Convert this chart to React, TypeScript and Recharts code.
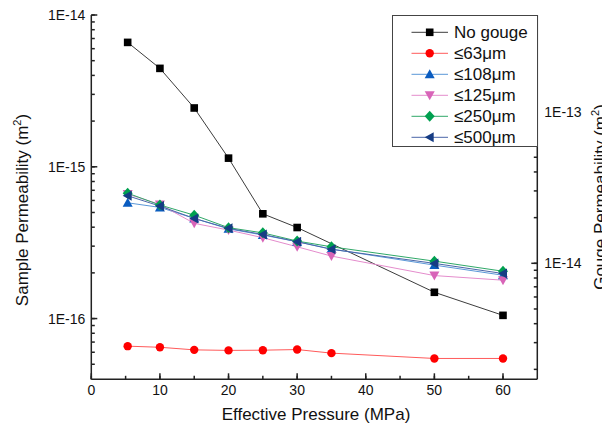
import React from "react";
import { LineChart, Line, XAxis, YAxis, Legend } from "recharts";

// effective pressure (MPa)
const pressure = [5.3, 10, 15, 20, 25, 30, 35, 50, 60];

// permeability (m^2)
const noGouge = [6.6e-15, 4.45e-15, 2.44e-15, 1.14e-15, 4.9e-16, 3.98e-16, null, 1.49e-16, 1.05e-16];
const g63 = [6.58e-17, 6.47e-17, 6.22e-17, 6.17e-17, 6.19e-17, 6.25e-17, 5.92e-17, 5.46e-17, 5.46e-17];
const g108 = [5.79e-16, 5.4e-16, 4.57e-16, 3.9e-16, 3.55e-16, 3.21e-16, 2.87e-16, 2.25e-16, 1.93e-16];
const g125 = [6.61e-16, 5.65e-16, 4.24e-16, 3.83e-16, 3.41e-16, 2.97e-16, 2.58e-16, 1.92e-16, 1.79e-16];
const g250 = [6.7e-16, 5.6e-16, 4.8e-16, 3.97e-16, 3.67e-16, 3.24e-16, 2.97e-16, 2.39e-16, 2.05e-16];
const g500 = [6.44e-16, 5.51e-16, 4.57e-16, 3.93e-16, 3.58e-16, 3.21e-16, 2.86e-16, 2.31e-16, 1.98e-16];

// ticks
const xMajor = [0, 10, 20, 30, 40, 50, 60];
const xMinor = [5, 15, 25, 35, 45, 55];
const leftDecades = [1e-16, 1e-15, 1e-14];
const leftLabels = ["1E-16", "1E-15", "1E-14"];
const leftMinor = [5e-17, 6e-17, 7e-17, 8e-17, 9e-17, 2e-16, 3e-16, 4e-16, 5e-16, 6e-16, 7e-16, 8e-16, 9e-16, 2e-15, 3e-15, 4e-15, 5e-15, 6e-15, 7e-15, 8e-15, 9e-15];
const rightDecades = [1e-14, 1e-13];
const rightLabels = ["1E-14", "1E-13"];
const rightMinor = [2e-15, 3e-15, 4e-15, 5e-15, 6e-15, 7e-15, 8e-15, 9e-15, 2e-14, 3e-14, 4e-14, 5e-14, 6e-14, 7e-14, 8e-14, 9e-14, 2e-13, 3e-13, 4e-13];

const series = [
  { key: "noGouge", name: "No gouge", values: noGouge, shape: "square", fill: "#000000", line: "#3c3c3c" },
  { key: "g63", name: "≤63μm", values: g63, shape: "circle", fill: "#ff0000", line: "#ff5a5a" },
  { key: "g108", name: "≤108μm", values: g108, shape: "up", fill: "#0a5cc0", line: "#5b98d8" },
  { key: "g125", name: "≤125μm", values: g125, shape: "down", fill: "#d864b8", line: "#e48ccc" },
  { key: "g250", name: "≤250μm", values: g250, shape: "diamond", fill: "#00a050", line: "#30a868" },
  { key: "g500", name: "≤500μm", values: g500, shape: "left", fill: "#163c84", line: "#4a66a8" },
];

const data = pressure.map((p, i) => {
  const row: any = { p };
  series.forEach((s) => (row[s.key] = s.values[i]));
  return row;
});

const frame = "#222";
const font = "Liberation Sans, Arial, Helvetica, sans-serif";
const minorLen = 3.5;
const majorLen = 6;
const tickW = 1.5;
const tickLineStyle = { stroke: frame, strokeWidth: tickW };
const axisLineStyle = { stroke: frame, strokeWidth: 1.5 };

const isIn = (v: number, list: number[]) => list.findIndex((d) => Math.abs(Math.log10(v) - Math.log10(d)) < 1e-6);

function Marker({ shape, cx, cy, fill }: any) {
  if (cx == null || cy == null || isNaN(cx) || isNaN(cy)) return <g />;
  if (shape === "square") return <rect x={cx - 3.8} y={cy - 3.8} width={7.6} height={7.6} fill={fill} />;
  if (shape === "circle") return <circle cx={cx} cy={cy} r={4.2} fill={fill} />;
  let pts = "";
  if (shape === "up") pts = `${cx},${cy - 5} ${cx - 5},${cy + 4} ${cx + 5},${cy + 4}`;
  if (shape === "down") pts = `${cx},${cy + 5} ${cx - 5},${cy - 4} ${cx + 5},${cy - 4}`;
  if (shape === "diamond") pts = `${cx},${cy - 5.5} ${cx + 5},${cy} ${cx},${cy + 5.5} ${cx - 5},${cy}`;
  if (shape === "left") pts = `${cx - 5},${cy} ${cx + 4},${cy - 5} ${cx + 4},${cy + 5}`;
  return <polygon points={pts} fill={fill} />;
}

// x, y handed to the tick components sit on the axis line (tick size and margin cancel out)
const BottomTick = ({ x, y, payload }: any) => {
  if (!xMajor.includes(payload.value)) return <g />;
  return (
    <g>
      <line x1={x} y1={y} x2={x} y2={y - majorLen} stroke={frame} strokeWidth={tickW} />
      <text x={x} y={y + 15.5} textAnchor="middle" fontSize={14} fontFamily={font} fill="#111">
        {payload.value}
      </text>
    </g>
  );
};

const TopTick = () => <g />;

const LeftTick = ({ x, y, payload }: any) => {
  const i = isIn(payload.value, leftDecades);
  if (i < 0) return <g />;
  return (
    <g>
      <line x1={x} y1={y} x2={x + majorLen} y2={y} stroke={frame} strokeWidth={tickW} />
      <text x={x - 6} y={y + 5} textAnchor="end" fontSize={14} fontFamily={font} fill="#111">
        {leftLabels[i]}
      </text>
    </g>
  );
};

const RightTick = ({ x, y, payload }: any) => {
  const i = isIn(payload.value, rightDecades);
  if (i < 0) return <g />;
  return (
    <g>
      <line x1={x} y1={y} x2={x - majorLen} y2={y} stroke={frame} strokeWidth={tickW} />
      <text x={x + 7} y={y + 5} textAnchor="start" fontSize={14} fontFamily={font} fill="#111">
        {rightLabels[i]}
      </text>
    </g>
  );
};

const LegendBox = () => (
  <svg width={146} height={132} style={{ display: "block" }}>
    <rect x={0.5} y={0.5} width={145} height={131} fill="#fff" stroke="#444" strokeWidth={1} />
    {series.map((s, i) => {
      const y = 17.3 + i * 21;
      return (
        <g key={s.key}>
          <line x1={19.5} y1={y} x2={56} y2={y} stroke={s.line} strokeWidth={1} />
          <Marker shape={s.shape} cx={37.7} cy={y} fill={s.fill} />
          <text x={62} y={y + 6} fontSize={17} fontFamily={font} fill="#111">
            {s.name}
          </text>
        </g>
      );
    })}
  </svg>
);

const superTitle = (label: string) => (
  <>
    {label} (m
    <tspan dy={-7} fontSize={11}>2</tspan>
    <tspan dy={7}>)</tspan>
  </>
);

export default function App() {
  const xTicks = [...xMajor, ...xMinor].sort((a, b) => a - b);
  return (
    <LineChart width={602} height={417} data={data} margin={{ top: 7, right: 0, bottom: 0, left: 0 }}>
      <XAxis
        xAxisId="bottom"
        dataKey="p"
        type="number"
        domain={[0, 65]}
        allowDataOverflow
        ticks={xTicks}
        interval={0}
        tickSize={-minorLen}
        tickMargin={minorLen}
        tick={<BottomTick />}
        tickLine={tickLineStyle}
        axisLine={axisLineStyle}
        height={45.7}
        label={{
          content: () => (
            <text x={308} y={412} textAnchor="middle" fontSize={17} fontFamily={font} fill="#111">
              Effective Pressure (MPa)
            </text>
          ),
        }}
      />
      <XAxis
        xAxisId="top"
        orientation="top"
        type="number"
        domain={[0, 65]}
        allowDataOverflow
        ticks={xTicks}
        interval={0}
        tickSize={-5}
        tickMargin={5}
        tick={<TopTick />}
        tickLine={tickLineStyle}
        axisLine={axisLineStyle}
        height={0}
        label={{
          content: () => (
            <text x={300} y={61} textAnchor="middle" fontSize={21} fontWeight="bold" fontFamily={font} fill="#000">
              0.6mm
            </text>
          ),
        }}
      />
      <YAxis
        yAxisId="left"
        scale="log"
        type="number"
        domain={[3.98e-17, 1e-14]}
        allowDataOverflow
        ticks={[...leftDecades, ...leftMinor].sort((a, b) => a - b)}
        interval={0}
        tickSize={-minorLen}
        tickMargin={minorLen}
        tick={<LeftTick />}
        tickLine={tickLineStyle}
        axisLine={axisLineStyle}
        width={83.3}
        label={{
          content: () => (
            <text transform="translate(20,202) rotate(-90)" textAnchor="middle" fontSize={17} fontFamily={font} fill="#111">
              {superTitle("Sample Permeability")}
            </text>
          ),
        }}
      />
      <YAxis
        yAxisId="right"
        orientation="right"
        scale="log"
        type="number"
        domain={[1.72e-15, 4.33e-13]}
        allowDataOverflow
        ticks={[...rightDecades, ...rightMinor].sort((a, b) => a - b)}
        interval={0}
        tickSize={-minorLen}
        tickMargin={minorLen}
        tick={<RightTick />}
        tickLine={tickLineStyle}
        axisLine={axisLineStyle}
        width={72.7}
        label={{
          content: () => (
            <text transform="translate(598,189) rotate(-90)" textAnchor="middle" fontSize={17} fontFamily={font} fill="#111">
              {superTitle("Gouge Permeability")}
            </text>
          ),
        }}
      />
      <Legend
        layout="horizontal"
        verticalAlign="middle"
        align="center"
        content={() => <LegendBox />}
        wrapperStyle={{ position: "absolute", left: 384, top: 7, width: 146, height: 132 }}
      />
      {series.map((s) => (
        <Line
          key={s.key}
          xAxisId="bottom"
          yAxisId="left"
          dataKey={s.key}
          name={s.name}
          stroke={s.line}
          strokeWidth={1}
          connectNulls
          isAnimationActive={false}
          dot={(p: any) => <Marker key={`${s.key}-${p.index}`} shape={s.shape} cx={p.cx} cy={p.cy} fill={s.fill} />}
          activeDot={false}
        />
      ))}
    </LineChart>
  );
}
